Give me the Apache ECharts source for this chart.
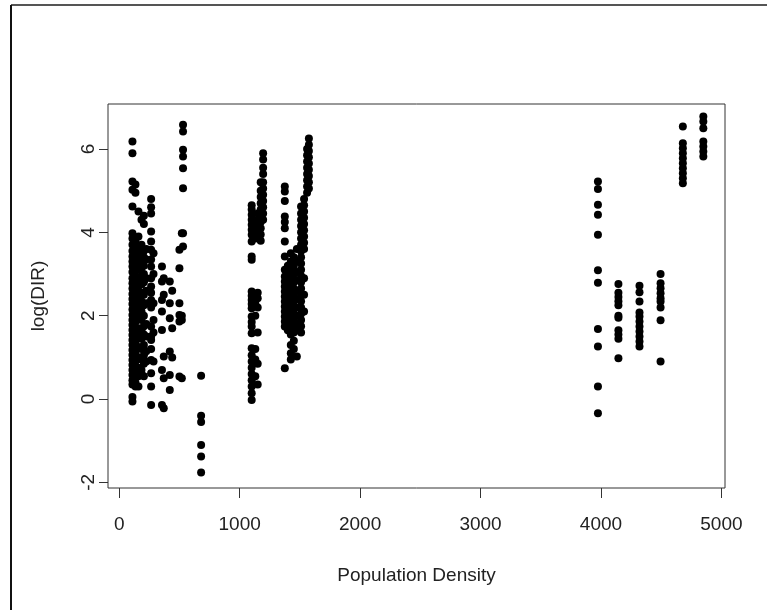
<!DOCTYPE html>
<html>
<head>
<meta charset="utf-8">
<script src="https://cdn.jsdelivr.net/npm/echarts@6/dist/echarts.min.js"></script>
<style>
  html, body { margin: 0; padding: 0; background: #fff; }
  #container { width: 767px; height: 610px; }
</style>
</head>
<body>
<div id="container"></div>
<script>
// population density of each group of observations (x)
var popDensity = [110, 135, 160, 185, 205, 225, 265, 285, 355, 370, 420, 440, 500, 520, 530, 680,
  1100, 1130, 1150, 1175, 1195,
  1375, 1400, 1425, 1450, 1475, 1510, 1535, 1560, 1575,
  3975, 4145, 4320, 4495, 4680, 4850];

// log(DIR) values read for each density group (y)
var logDIR = [
  [6.18, 5.90, 5.22, 5.02, 4.62, 3.98, 3.85, 3.7, 3.55, 3.42, 3.3, 3.18, 3.05, 2.9, 2.78, 2.65, 2.52, 2.4, 2.28, 2.15, 2.02, 1.9, 1.78, 1.66, 1.54, 1.42, 1.3, 1.18, 1.06, 0.94, 0.82, 0.7, 0.58, 0.45, 0.35, 0.05, -0.06],
  [5.15, 4.95, 3.8, 3.6, 3.4, 3.2, 2.95, 2.7, 2.5, 2.3, 2.05, 1.85, 1.6, 1.35, 1.1, 0.9, 0.62, 0.4, 0.3],
  [4.5, 3.9, 3.65, 3.45, 3.25, 3.1, 2.85, 2.6, 2.4, 2.2, 1.95, 1.7, 1.5, 1.25, 1.0, 0.75, 0.55, 0.3],
  [4.3, 3.7, 3.5, 3.3, 3.15, 2.95, 2.75, 2.55, 2.35, 2.1, 1.9, 1.65, 1.45, 1.2, 0.95, 0.7, 0.6],
  [4.4, 4.2, 3.55, 3.4, 3.2, 3.0, 2.8, 2.5, 2.25, 2.0, 1.75, 1.55, 1.3, 1.05, 0.85, 0.55],
  [3.6, 3.35, 2.9, 2.6, 2.3, 1.8, 1.5, 1.15, 0.9],
  [4.8, 4.6, 4.45, 4.02, 3.78, 3.58, 3.35, 3.18, 2.9, 2.7, 2.55, 2.38, 2.2, 1.74, 1.5, 1.42, 1.2, 0.94, 0.62, 0.3, -0.14],
  [3.5, 3.0, 2.3, 1.9, 1.6, 0.9],
  [3.18, 2.82, 2.38, 2.1, 1.66, 0.7, -0.14],
  [2.9, 2.5, 1.02, 0.5, -0.22],
  [2.82, 2.3, 1.94, 1.14, 0.58, 0.22],
  [2.6, 1.7, 1.0],
  [3.58, 3.14, 2.3, 2.02, 1.86, 0.54],
  [3.98, 2.0, 1.9, 0.5],
  [6.58, 6.42, 5.98, 5.82, 5.54, 5.06, 3.98, 3.66],
  [0.56, -0.40, -0.55, -1.10, -1.38, -1.76],
  [4.65, 4.55, 4.42, 4.3, 4.18, 4.06, 3.94, 3.78, 3.42, 3.34, 2.58, 2.48, 2.38, 2.28, 2.18, 1.98, 1.85, 1.74, 1.58, 1.22, 1.05, 0.9, 0.75, 0.6, 0.45, 0.3, 0.14, -0.02],
  [4.1, 3.95, 3.85, 2.5, 2.3, 2.0, 1.2, 0.95, 0.55],
  [4.45, 4.3, 4.2, 4.06, 2.55, 2.42, 2.2, 1.6, 0.85, 0.35],
  [5.2, 5.0, 4.85, 4.7, 4.55, 4.4, 4.25, 4.1, 3.95, 3.8],
  [5.9, 5.75, 5.55, 5.4, 5.2, 5.05, 4.9, 4.75, 4.6, 4.45, 4.3],
  [5.10, 4.98, 4.75, 4.38, 4.25, 4.10, 3.78, 3.42, 3.10, 2.94, 2.82, 2.7, 2.58, 2.46, 2.34, 2.22, 2.1, 1.98, 1.86, 1.74, 0.74],
  [3.2, 3.0, 2.85, 2.7, 2.55, 2.4, 2.25, 2.1, 1.95, 1.8, 1.65],
  [3.5, 3.3, 3.1, 2.9, 2.75, 2.6, 2.45, 2.3, 2.15, 2.0, 1.85, 1.7, 1.55, 1.3, 1.1, 0.95],
  [3.4, 3.2, 3.0, 2.8, 2.65, 2.5, 2.35, 2.2, 2.05, 1.9, 1.75, 1.6, 1.4, 1.2],
  [3.6, 3.3, 3.05, 2.85, 2.6, 2.4, 2.2, 2.0, 1.8, 1.65, 1.02],
  [4.62, 4.45, 4.3, 4.15, 4.0, 3.85, 3.7, 3.55, 3.4, 3.25, 3.1, 2.95, 2.8, 2.65, 2.5, 2.35, 2.2, 2.05, 1.9, 1.75, 1.6],
  [4.8, 4.65, 4.5, 4.35, 4.2, 4.05, 3.9, 3.75, 3.6, 2.9, 2.5, 2.1],
  [6.0, 5.85, 5.7, 5.55, 5.4, 5.25, 5.1, 4.95],
  [6.25, 6.1, 5.95, 5.8, 5.65, 5.5, 5.35, 5.2, 5.05],
  [5.22, 5.04, 4.66, 4.42, 3.94, 3.09, 2.79, 1.68, 1.26, 0.30, -0.34],
  [2.76, 2.55, 2.45, 2.35, 2.25, 2.0, 1.95, 1.65, 1.55, 1.45, 0.98],
  [2.72, 2.56, 2.34, 2.08, 1.98, 1.86, 1.74, 1.62, 1.50, 1.38, 1.26],
  [3.0, 2.78, 2.66, 2.54, 2.42, 2.34, 2.2, 1.89, 0.90],
  [6.54, 6.14, 6.02, 5.90, 5.78, 5.66, 5.54, 5.42, 5.30, 5.18],
  [6.78, 6.66, 6.50, 6.18, 6.06, 5.94, 5.82]
];

var xTicks = [0, 1000, 2000, 3000, 4000, 5000];
var yTicks = [-2, 0, 2, 4, 6];

var points = [];
for (var i = 0; i < popDensity.length; i++) {
  for (var j = 0; j < logDIR[i].length; j++) {
    points.push([popDensity[i], logDIR[i][j]]);
  }
}

var dom = document.getElementById("container");
var myChart = echarts.init(dom, null, { renderer: "canvas" });
var textColor = "#222";
var fontFamily = "'Liberation Sans', Arial, sans-serif";

var option = {
  animation: false,
  backgroundColor: "#fff",
  grid: {
    left: 108,
    right: 42,
    top: 104,
    bottom: 122,
    show: true,
    borderColor: "#333",
    borderWidth: 1,
  },
  xAxis: {
    type: "value",
    min: -93,
    max: 5030,
    name: "Population Density",
    nameLocation: "middle",
    nameGap: 78,
    nameTextStyle: { color: textColor, fontSize: 19, fontFamily: fontFamily },
    axisLine: { show: false, onZero: false },
    axisTick: { show: true, length: 10, customValues: xTicks, lineStyle: { color: "#333" } },
    axisLabel: {
      customValues: xTicks,
      margin: 27,
      color: textColor,
      fontSize: 19,
      fontFamily: fontFamily,
      formatter: function (v) { return String(v); },
    },
    splitLine: { show: false },
  },
  yAxis: {
    type: "value",
    min: -2.134,
    max: 7.08,
    name: "log(DIR)",
    nameLocation: "middle",
    nameRotate: 90,
    nameGap: 60,
    nameTextStyle: { color: textColor, fontSize: 19, fontFamily: fontFamily },
    axisLine: { show: false, onZero: false },
    axisTick: { show: true, length: 9, customValues: yTicks, lineStyle: { color: "#333" } },
    axisLabel: {
      customValues: yTicks,
      rotate: 90,
      margin: 10,
      color: textColor,
      fontSize: 19,
      fontFamily: fontFamily,
      formatter: function (v) { return String(v); },
    },
    splitLine: { show: false },
  },
  graphic: [
    { type: "line", shape: { x1: 11, y1: 5, x2: 767, y2: 5 }, style: { stroke: "#555", lineWidth: 2 } },
    { type: "line", shape: { x1: 11, y1: 5, x2: 11, y2: 610 }, style: { stroke: "#111", lineWidth: 2 } },
  ],
  series: [
    {
      type: "scatter",
      data: points,
      symbol: "circle",
      symbolSize: 8,
      itemStyle: { color: "#000", opacity: 1 },
    },
  ],
};

if (option && typeof option === "object") {
  myChart.setOption(option, true);
}
</script>
</body>
</html>
